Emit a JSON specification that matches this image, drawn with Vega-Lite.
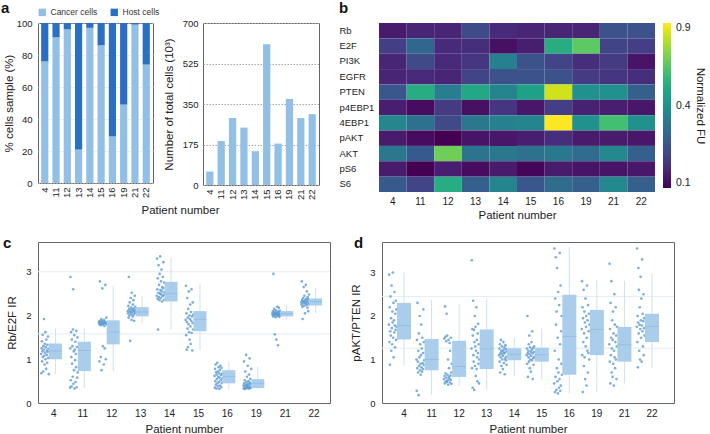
{
"$schema":"https://vega.github.io/schema/vega-lite/v6.json",
"padding":{"left":0,"top":0,"right":0,"bottom":0},
"spacing":14,
"resolve":{"scale":{"color":"independent","xOffset":"independent"}},
"config":{
 "font":"Liberation Sans",
 "view":{"stroke":"#666","strokeWidth":1},
 "axis":{"labelFont":"Liberation Sans","titleFont":"Liberation Sans","labelFontSize":9.5,"titleFontSize":11.5,"titleFontWeight":"normal","labelColor":"#222","titleColor":"#222","ticks":false,"tickSize":0,"domain":false,"grid":false,"labelPadding":6},
 "title":{"font":"Liberation Sans","fontSize":15,"fontWeight":"bold","anchor":"start","frame":"group","offset":0,"color":"#111","baseline":"top"},
 "legend":{"labelFont":"Liberation Sans","titleFont":"Liberation Sans"}
},
"datasets":{
 "comp":[
  {"p":"4","t":"Cancer cells","v":76},{"p":"4","t":"Host cells","v":24},
  {"p":"11","t":"Cancer cells","v":91},{"p":"11","t":"Host cells","v":9},
  {"p":"12","t":"Cancer cells","v":96},{"p":"12","t":"Host cells","v":4},
  {"p":"13","t":"Cancer cells","v":21},{"p":"13","t":"Host cells","v":79},
  {"p":"14","t":"Cancer cells","v":97},{"p":"14","t":"Host cells","v":3},
  {"p":"15","t":"Cancer cells","v":86},{"p":"15","t":"Host cells","v":14},
  {"p":"16","t":"Cancer cells","v":29},{"p":"16","t":"Host cells","v":71},
  {"p":"19","t":"Cancer cells","v":49},{"p":"19","t":"Host cells","v":51},
  {"p":"21","t":"Cancer cells","v":99},{"p":"21","t":"Host cells","v":1},
  {"p":"22","t":"Cancer cells","v":74},{"p":"22","t":"Host cells","v":26}
 ],
 "cells":[
  {"p":"4","n":58},{"p":"11","n":190},{"p":"12","n":289},{"p":"13","n":248},{"p":"14","n":146},
  {"p":"15","n":608},{"p":"16","n":179},{"p":"19","n":372},{"p":"21","n":289},{"p":"22","n":306}
 ],
 "heat":[
  {"m":"Rb","p":"4","v":0.130},{"m":"Rb","p":"11","v":0.144},{"m":"Rb","p":"12","v":0.144},{"m":"Rb","p":"13","v":0.207},{"m":"Rb","p":"14","v":0.154},{"m":"Rb","p":"15","v":0.144},{"m":"Rb","p":"16","v":0.144},{"m":"Rb","p":"19","v":0.144},{"m":"Rb","p":"21","v":0.225},{"m":"Rb","p":"22","v":0.225},
  {"m":"E2F","p":"4","v":0.185},{"m":"E2F","p":"11","v":0.276},{"m":"E2F","p":"12","v":0.154},{"m":"E2F","p":"13","v":0.159},{"m":"E2F","p":"14","v":0.117},{"m":"E2F","p":"15","v":0.135},{"m":"E2F","p":"16","v":0.502},{"m":"E2F","p":"19","v":0.625},{"m":"E2F","p":"21","v":0.196},{"m":"E2F","p":"22","v":0.185},
  {"m":"PI3K","p":"4","v":0.144},{"m":"PI3K","p":"11","v":0.207},{"m":"PI3K","p":"12","v":0.154},{"m":"PI3K","p":"13","v":0.169},{"m":"PI3K","p":"14","v":0.346},{"m":"PI3K","p":"15","v":0.225},{"m":"PI3K","p":"16","v":0.196},{"m":"PI3K","p":"19","v":0.159},{"m":"PI3K","p":"21","v":0.180},{"m":"PI3K","p":"22","v":0.121},
  {"m":"EGFR","p":"4","v":0.144},{"m":"EGFR","p":"11","v":0.154},{"m":"EGFR","p":"12","v":0.144},{"m":"EGFR","p":"13","v":0.196},{"m":"EGFR","p":"14","v":0.225},{"m":"EGFR","p":"15","v":0.225},{"m":"EGFR","p":"16","v":0.225},{"m":"EGFR","p":"19","v":0.180},{"m":"EGFR","p":"21","v":0.169},{"m":"EGFR","p":"22","v":0.159},
  {"m":"PTEN","p":"4","v":0.237},{"m":"PTEN","p":"11","v":0.502},{"m":"PTEN","p":"12","v":0.339},{"m":"PTEN","p":"13","v":0.484},{"m":"PTEN","p":"14","v":0.361},{"m":"PTEN","p":"15","v":0.458},{"m":"PTEN","p":"16","v":0.818},{"m":"PTEN","p":"19","v":0.400},{"m":"PTEN","p":"21","v":0.400},{"m":"PTEN","p":"22","v":0.256},
  {"m":"p4EBP1","p":"4","v":0.135},{"m":"p4EBP1","p":"11","v":0.112},{"m":"p4EBP1","p":"12","v":0.180},{"m":"p4EBP1","p":"13","v":0.117},{"m":"p4EBP1","p":"14","v":0.169},{"m":"p4EBP1","p":"15","v":0.125},{"m":"p4EBP1","p":"16","v":0.185},{"m":"p4EBP1","p":"19","v":0.139},{"m":"p4EBP1","p":"21","v":0.135},{"m":"p4EBP1","p":"22","v":0.125},
  {"m":"4EBP1","p":"4","v":0.369},{"m":"4EBP1","p":"11","v":0.303},{"m":"4EBP1","p":"12","v":0.207},{"m":"4EBP1","p":"13","v":0.324},{"m":"4EBP1","p":"14","v":0.346},{"m":"4EBP1","p":"15","v":0.361},{"m":"4EBP1","p":"16","v":0.900},{"m":"4EBP1","p":"19","v":0.400},{"m":"4EBP1","p":"21","v":0.576},{"m":"4EBP1","p":"22","v":0.400},
  {"m":"pAKT","p":"4","v":0.130},{"m":"pAKT","p":"11","v":0.112},{"m":"pAKT","p":"12","v":0.100},{"m":"pAKT","p":"13","v":0.121},{"m":"pAKT","p":"14","v":0.125},{"m":"pAKT","p":"15","v":0.135},{"m":"pAKT","p":"16","v":0.159},{"m":"pAKT","p":"19","v":0.130},{"m":"pAKT","p":"21","v":0.130},{"m":"pAKT","p":"22","v":0.125},
  {"m":"AKT","p":"4","v":0.324},{"m":"AKT","p":"11","v":0.243},{"m":"AKT","p":"12","v":0.655},{"m":"AKT","p":"13","v":0.310},{"m":"AKT","p":"14","v":0.324},{"m":"AKT","p":"15","v":0.303},{"m":"AKT","p":"16","v":0.324},{"m":"AKT","p":"19","v":0.289},{"m":"AKT","p":"21","v":0.376},{"m":"AKT","p":"22","v":0.256},
  {"m":"pS6","p":"4","v":0.130},{"m":"pS6","p":"11","v":0.100},{"m":"pS6","p":"12","v":0.135},{"m":"pS6","p":"13","v":0.112},{"m":"pS6","p":"14","v":0.130},{"m":"pS6","p":"15","v":0.104},{"m":"pS6","p":"16","v":0.130},{"m":"pS6","p":"19","v":0.121},{"m":"pS6","p":"21","v":0.121},{"m":"pS6","p":"22","v":0.125},
  {"m":"S6","p":"4","v":0.243},{"m":"S6","p":"11","v":0.196},{"m":"S6","p":"12","v":0.502},{"m":"S6","p":"13","v":0.256},{"m":"S6","p":"14","v":0.361},{"m":"S6","p":"15","v":0.237},{"m":"S6","p":"16","v":0.289},{"m":"S6","p":"19","v":0.256},{"m":"S6","p":"21","v":0.376},{"m":"S6","p":"22","v":0.256}
 ],
 "cref":[{"y":1.58},{"y":3.0}],
 "dref":[{"y":1.26},{"y":2.45}],
 "cbox":[
  {"p":"4","lo":0.66,"q1":1.00,"med":1.19,"q3":1.36,"hi":1.72},
  {"p":"11","lo":0.34,"q1":0.73,"med":1.20,"q3":1.40,"hi":1.70},
  {"p":"12","lo":0.73,"q1":1.34,"med":1.62,"q3":1.89,"hi":2.68},
  {"p":"13","lo":1.83,"q1":1.98,"med":2.08,"q3":2.19,"hi":2.45},
  {"p":"14","lo":1.68,"q1":2.32,"med":2.50,"q3":2.77,"hi":3.33},
  {"p":"15","lo":1.20,"q1":1.64,"med":1.91,"q3":2.10,"hi":2.72},
  {"p":"16","lo":0.32,"q1":0.45,"med":0.60,"q3":0.75,"hi":0.95},
  {"p":"19","lo":0.32,"q1":0.34,"med":0.45,"q3":0.545,"hi":0.83},
  {"p":"21","lo":1.89,"q1":1.98,"med":2.04,"q3":2.10,"hi":2.24},
  {"p":"22","lo":2.05,"q1":2.23,"med":2.32,"q3":2.39,"hi":2.63}
 ],
 "dbox":[
  {"p":"4","lo":0.86,"q1":1.46,"med":1.78,"q3":2.30,"hi":3.00},
  {"p":"11","lo":0.19,"q1":0.75,"med":1.00,"q3":1.47,"hi":2.37},
  {"p":"12","lo":0.39,"q1":0.60,"med":0.84,"q3":1.43,"hi":2.27},
  {"p":"13","lo":0.31,"q1":0.78,"med":1.24,"q3":1.69,"hi":2.41},
  {"p":"14","lo":0.61,"q1":0.98,"med":1.12,"q3":1.26,"hi":1.51},
  {"p":"15","lo":0.54,"q1":0.95,"med":1.11,"q3":1.27,"hi":1.71},
  {"p":"16","lo":0.23,"q1":0.65,"med":1.53,"q3":2.49,"hi":3.58},
  {"p":"19","lo":0.25,"q1":1.10,"med":1.69,"q3":2.14,"hi":2.83},
  {"p":"21","lo":0.45,"q1":0.95,"med":1.34,"q3":1.75,"hi":2.81},
  {"p":"22","lo":0.81,"q1":1.40,"med":1.76,"q3":2.05,"hi":2.97}
 ],
 "cpts":[
  {"p":"4","v":1.12},{"p":"4","v":0.68},{"p":"4","v":1.25},{"p":"4","v":1.41},{"p":"4","v":0.95},{"p":"4","v":1.18},{"p":"4","v":1.56},{"p":"4","v":1.05},{"p":"4","v":0.72},{"p":"4","v":1.30},{"p":"4","v":1.22},{"p":"4","v":1.92},{"p":"4","v":1.08},{"p":"4","v":0.88},{"p":"4","v":1.35},{"p":"4","v":1.15},{"p":"4","v":1.62},{"p":"4","v":1.00},{"p":"4","v":1.27},{"p":"4","v":0.78},{"p":"4","v":1.45},{"p":"4","v":1.10},{"p":"4","v":1.20},{"p":"4","v":0.92},{"p":"4","v":1.33},{"p":"4","v":1.17},{"p":"4","v":1.52},{"p":"4","v":1.03},{"p":"4","v":1.24},{"p":"4","v":0.66},
  {"p":"11","v":0.35},{"p":"11","v":1.25},{"p":"11","v":2.88},{"p":"11","v":0.52},{"p":"11","v":1.62},{"p":"11","v":1.05},{"p":"11","v":0.38},{"p":"11","v":1.45},{"p":"11","v":0.90},{"p":"11","v":1.30},{"p":"11","v":0.60},{"p":"11","v":1.68},{"p":"11","v":2.60},{"p":"11","v":0.44},{"p":"11","v":1.18},{"p":"11","v":0.75},{"p":"11","v":1.55},{"p":"11","v":0.33},{"p":"11","v":1.22},{"p":"11","v":0.98},{"p":"11","v":1.40},{"p":"11","v":0.48},{"p":"11","v":1.12},{"p":"11","v":0.82},{"p":"11","v":1.65},{"p":"11","v":0.36},{"p":"11","v":1.28},{"p":"11","v":0.58},{"p":"11","v":1.50},{"p":"11","v":0.70},
  {"p":"12","v":1.83},{"p":"12","v":1.86},{"p":"12","v":0.95},{"p":"12","v":1.80},{"p":"12","v":2.78},{"p":"12","v":1.88},{"p":"12","v":1.78},{"p":"12","v":1.05},{"p":"12","v":1.84},{"p":"12","v":1.92},{"p":"12","v":0.75},{"p":"12","v":1.82},{"p":"12","v":1.87},{"p":"12","v":2.62},{"p":"12","v":1.79},{"p":"12","v":1.30},{"p":"12","v":1.85},{"p":"12","v":1.81},{"p":"12","v":0.88},{"p":"12","v":1.90},{"p":"12","v":1.83},{"p":"12","v":1.76},{"p":"12","v":1.25},{"p":"12","v":1.86},{"p":"12","v":2.70},{"p":"12","v":1.82},{"p":"12","v":1.00},{"p":"12","v":1.84},{"p":"12","v":1.95},{"p":"12","v":1.80},
  {"p":"13","v":2.10},{"p":"13","v":2.05},{"p":"13","v":2.22},{"p":"13","v":1.95},{"p":"13","v":2.88},{"p":"13","v":2.15},{"p":"13","v":2.00},{"p":"13","v":2.30},{"p":"13","v":2.08},{"p":"13","v":1.42},{"p":"13","v":2.12},{"p":"13","v":2.40},{"p":"13","v":2.03},{"p":"13","v":2.18},{"p":"13","v":1.90},{"p":"13","v":2.52},{"p":"13","v":2.07},{"p":"13","v":2.14},{"p":"13","v":1.98},{"p":"13","v":2.25},{"p":"13","v":2.11},{"p":"13","v":2.35},{"p":"13","v":2.02},{"p":"13","v":2.16},{"p":"13","v":1.88},{"p":"13","v":2.09},{"p":"13","v":2.45},{"p":"13","v":2.06},{"p":"13","v":2.20},{"p":"13","v":2.13},
  {"p":"14","v":2.45},{"p":"14","v":3.30},{"p":"14","v":2.60},{"p":"14","v":2.38},{"p":"14","v":2.85},{"p":"14","v":1.68},{"p":"14","v":2.52},{"p":"14","v":3.15},{"p":"14","v":2.42},{"p":"14","v":2.70},{"p":"14","v":2.35},{"p":"14","v":2.95},{"p":"14","v":2.50},{"p":"14","v":3.35},{"p":"14","v":2.58},{"p":"14","v":2.40},{"p":"14","v":2.78},{"p":"14","v":2.48},{"p":"14","v":3.05},{"p":"14","v":2.55},{"p":"14","v":2.32},{"p":"14","v":2.65},{"p":"14","v":2.44},{"p":"14","v":2.88},{"p":"14","v":2.62},{"p":"14","v":3.22},{"p":"14","v":2.47},{"p":"14","v":2.36},{"p":"14","v":2.75},{"p":"14","v":2.53},
  {"p":"15","v":1.90},{"p":"15","v":2.68},{"p":"15","v":1.55},{"p":"15","v":2.05},{"p":"15","v":1.22},{"p":"15","v":1.85},{"p":"15","v":2.40},{"p":"15","v":1.70},{"p":"15","v":1.95},{"p":"15","v":1.28},{"p":"15","v":2.15},{"p":"15","v":1.80},{"p":"15","v":2.55},{"p":"15","v":1.62},{"p":"15","v":2.00},{"p":"15","v":1.45},{"p":"15","v":1.92},{"p":"15","v":2.25},{"p":"15","v":1.75},{"p":"15","v":1.35},{"p":"15","v":2.08},{"p":"15","v":1.88},{"p":"15","v":2.60},{"p":"15","v":1.60},{"p":"15","v":1.98},{"p":"15","v":1.20},{"p":"15","v":1.83},{"p":"15","v":2.30},{"p":"15","v":1.68},{"p":"15","v":2.02},
  {"p":"16","v":0.62},{"p":"16","v":0.35},{"p":"16","v":0.78},{"p":"16","v":0.50},{"p":"16","v":0.88},{"p":"16","v":0.42},{"p":"16","v":0.70},{"p":"16","v":0.33},{"p":"16","v":0.65},{"p":"16","v":0.55},{"p":"16","v":0.92},{"p":"16","v":0.45},{"p":"16","v":0.72},{"p":"16","v":0.38},{"p":"16","v":0.60},{"p":"16","v":0.82},{"p":"16","v":0.48},{"p":"16","v":0.68},{"p":"16","v":0.32},{"p":"16","v":0.58},{"p":"16","v":0.75},{"p":"16","v":0.40},{"p":"16","v":0.85},{"p":"16","v":0.52},{"p":"16","v":0.64},{"p":"16","v":0.36},{"p":"16","v":0.80},{"p":"16","v":0.46},{"p":"16","v":0.67},{"p":"16","v":0.56},
  {"p":"19","v":0.40},{"p":"19","v":0.33},{"p":"19","v":0.95},{"p":"19","v":0.45},{"p":"19","v":0.36},{"p":"19","v":0.52},{"p":"19","v":0.32},{"p":"19","v":0.72},{"p":"19","v":0.42},{"p":"19","v":0.38},{"p":"19","v":1.10},{"p":"19","v":0.48},{"p":"19","v":0.34},{"p":"19","v":0.60},{"p":"19","v":0.41},{"p":"19","v":0.35},{"p":"19","v":0.85},{"p":"19","v":0.44},{"p":"19","v":0.37},{"p":"19","v":0.50},{"p":"19","v":0.33},{"p":"19","v":0.65},{"p":"19","v":0.39},{"p":"19","v":1.02},{"p":"19","v":0.46},{"p":"19","v":0.34},{"p":"19","v":0.55},{"p":"19","v":0.43},{"p":"19","v":0.36},{"p":"19","v":0.78},
  {"p":"21","v":2.05},{"p":"21","v":2.02},{"p":"21","v":2.10},{"p":"21","v":1.98},{"p":"21","v":2.95},{"p":"21","v":2.06},{"p":"21","v":2.00},{"p":"21","v":2.15},{"p":"21","v":2.04},{"p":"21","v":1.57},{"p":"21","v":2.08},{"p":"21","v":2.03},{"p":"21","v":1.96},{"p":"21","v":2.12},{"p":"21","v":2.01},{"p":"21","v":1.45},{"p":"21","v":2.07},{"p":"21","v":2.05},{"p":"21","v":2.20},{"p":"21","v":1.99},{"p":"21","v":2.03},{"p":"21","v":1.32},{"p":"21","v":2.09},{"p":"21","v":2.04},{"p":"21","v":2.18},{"p":"21","v":2.02},{"p":"21","v":1.97},{"p":"21","v":2.06},{"p":"21","v":2.11},{"p":"21","v":2.00},
  {"p":"22","v":2.30},{"p":"22","v":2.25},{"p":"22","v":2.78},{"p":"22","v":2.35},{"p":"22","v":2.20},{"p":"22","v":1.92},{"p":"22","v":2.32},{"p":"22","v":2.40},{"p":"22","v":2.28},{"p":"22","v":2.65},{"p":"22","v":2.33},{"p":"22","v":2.22},{"p":"22","v":2.45},{"p":"22","v":2.31},{"p":"22","v":2.05},{"p":"22","v":2.36},{"p":"22","v":2.27},{"p":"22","v":2.70},{"p":"22","v":2.29},{"p":"22","v":2.38},{"p":"22","v":2.24},{"p":"22","v":2.55},{"p":"22","v":2.34},{"p":"22","v":2.18},{"p":"22","v":2.42},{"p":"22","v":2.30},{"p":"22","v":2.10},{"p":"22","v":2.37},{"p":"22","v":2.26},{"p":"22","v":2.48}
 ],
 "dpts":[
  {"p":"4","v":1.80},{"p":"4","v":2.95},{"p":"4","v":1.40},{"p":"4","v":2.20},{"p":"4","v":0.88},{"p":"4","v":1.65},{"p":"4","v":2.45},{"p":"4","v":1.55},{"p":"4","v":1.95},{"p":"4","v":1.20},{"p":"4","v":2.70},{"p":"4","v":1.72},{"p":"4","v":1.35},{"p":"4","v":2.10},{"p":"4","v":1.85},{"p":"4","v":3.00},{"p":"4","v":1.50},{"p":"4","v":2.30},{"p":"4","v":1.05},{"p":"4","v":1.90},{"p":"4","v":1.62},{"p":"4","v":2.55},{"p":"4","v":1.78},{"p":"4","v":1.28},{"p":"4","v":2.05},{"p":"4","v":1.68},{"p":"4","v":2.35},{"p":"4","v":1.45},{"p":"4","v":2.15},{"p":"4","v":1.75},
  {"p":"11","v":1.00},{"p":"11","v":0.28},{"p":"11","v":1.45},{"p":"11","v":0.80},{"p":"11","v":2.30},{"p":"11","v":0.95},{"p":"11","v":0.70},{"p":"11","v":1.20},{"p":"11","v":0.18},{"p":"11","v":1.60},{"p":"11","v":0.85},{"p":"11","v":1.05},{"p":"11","v":2.00},{"p":"11","v":0.75},{"p":"11","v":1.35},{"p":"11","v":0.90},{"p":"11","v":0.65},{"p":"11","v":1.10},{"p":"11","v":1.80},{"p":"11","v":0.82},{"p":"11","v":1.25},{"p":"11","v":0.72},{"p":"11","v":1.50},{"p":"11","v":0.92},{"p":"11","v":0.78},{"p":"11","v":1.15},{"p":"11","v":2.15},{"p":"11","v":0.88},{"p":"11","v":1.40},{"p":"11","v":0.98},
  {"p":"12","v":0.55},{"p":"12","v":1.48},{"p":"12","v":0.62},{"p":"12","v":0.45},{"p":"12","v":2.22},{"p":"12","v":1.52},{"p":"12","v":0.68},{"p":"12","v":0.50},{"p":"12","v":1.42},{"p":"12","v":0.58},{"p":"12","v":2.05},{"p":"12","v":0.48},{"p":"12","v":1.55},{"p":"12","v":0.65},{"p":"12","v":0.52},{"p":"12","v":1.00},{"p":"12","v":0.42},{"p":"12","v":1.45},{"p":"12","v":0.60},{"p":"12","v":0.80},{"p":"12","v":0.56},{"p":"12","v":1.38},{"p":"12","v":0.47},{"p":"12","v":1.20},{"p":"12","v":0.63},{"p":"12","v":0.53},{"p":"12","v":1.50},{"p":"12","v":0.70},{"p":"12","v":0.44},{"p":"12","v":0.90},
  {"p":"13","v":1.25},{"p":"13","v":3.28},{"p":"13","v":0.80},{"p":"13","v":1.70},{"p":"13","v":0.35},{"p":"13","v":1.55},{"p":"13","v":2.35},{"p":"13","v":1.10},{"p":"13","v":0.95},{"p":"13","v":1.68},{"p":"13","v":0.30},{"p":"13","v":1.40},{"p":"13","v":2.00},{"p":"13","v":0.85},{"p":"13","v":1.30},{"p":"13","v":1.75},{"p":"13","v":0.62},{"p":"13","v":1.20},{"p":"13","v":2.20},{"p":"13","v":0.78},{"p":"13","v":1.45},{"p":"13","v":1.05},{"p":"13","v":0.50},{"p":"13","v":1.60},{"p":"13","v":1.15},{"p":"13","v":1.82},{"p":"13","v":0.90},{"p":"13","v":1.35},{"p":"13","v":0.45},{"p":"13","v":1.00},
  {"p":"14","v":1.10},{"p":"14","v":1.25},{"p":"14","v":0.95},{"p":"14","v":1.35},{"p":"14","v":0.70},{"p":"14","v":1.15},{"p":"14","v":1.05},{"p":"14","v":1.45},{"p":"14","v":1.20},{"p":"14","v":0.85},{"p":"14","v":1.12},{"p":"14","v":1.30},{"p":"14","v":1.00},{"p":"14","v":1.18},{"p":"14","v":0.78},{"p":"14","v":1.08},{"p":"14","v":1.40},{"p":"14","v":1.22},{"p":"14","v":0.92},{"p":"14","v":1.14},{"p":"14","v":1.28},{"p":"14","v":0.66},{"p":"14","v":1.02},{"p":"14","v":1.16},{"p":"14","v":1.33},{"p":"14","v":0.98},{"p":"14","v":1.24},{"p":"14","v":1.06},{"p":"14","v":0.88},{"p":"14","v":1.19},
  {"p":"15","v":1.10},{"p":"15","v":1.25},{"p":"15","v":0.90},{"p":"15","v":2.00},{"p":"15","v":1.15},{"p":"15","v":0.60},{"p":"15","v":1.20},{"p":"15","v":1.05},{"p":"15","v":1.35},{"p":"15","v":0.95},{"p":"15","v":1.55},{"p":"15","v":1.12},{"p":"15","v":0.80},{"p":"15","v":1.28},{"p":"15","v":1.00},{"p":"15","v":1.18},{"p":"15","v":0.72},{"p":"15","v":1.08},{"p":"15","v":1.40},{"p":"15","v":1.22},{"p":"15","v":0.98},{"p":"15","v":1.65},{"p":"15","v":1.14},{"p":"15","v":0.55},{"p":"15","v":1.26},{"p":"15","v":1.03},{"p":"15","v":0.88},{"p":"15","v":1.17},{"p":"15","v":1.30},{"p":"15","v":1.06},
  {"p":"16","v":0.45},{"p":"16","v":3.55},{"p":"16","v":1.20},{"p":"16","v":0.25},{"p":"16","v":2.40},{"p":"16","v":0.60},{"p":"16","v":3.35},{"p":"16","v":1.80},{"p":"16","v":0.30},{"p":"16","v":2.10},{"p":"16","v":0.80},{"p":"16","v":3.10},{"p":"16","v":0.50},{"p":"16","v":1.50},{"p":"16","v":0.22},{"p":"16","v":2.55},{"p":"16","v":0.70},{"p":"16","v":1.00},{"p":"16","v":0.35},{"p":"16","v":2.25},{"p":"16","v":0.55},{"p":"16","v":3.45},{"p":"16","v":1.35},{"p":"16","v":0.28},{"p":"16","v":2.70},{"p":"16","v":0.40},{"p":"16","v":1.65},{"p":"16","v":0.90},{"p":"16","v":2.00},{"p":"16","v":0.65},
  {"p":"19","v":1.70},{"p":"19","v":2.80},{"p":"19","v":1.10},{"p":"19","v":2.20},{"p":"19","v":0.25},{"p":"19","v":1.95},{"p":"19","v":1.40},{"p":"19","v":2.60},{"p":"19","v":0.85},{"p":"19","v":1.60},{"p":"19","v":2.10},{"p":"19","v":1.05},{"p":"19","v":1.85},{"p":"19","v":0.55},{"p":"19","v":2.40},{"p":"19","v":1.30},{"p":"19","v":1.75},{"p":"19","v":2.00},{"p":"19","v":0.40},{"p":"19","v":1.50},{"p":"19","v":2.70},{"p":"19","v":1.20},{"p":"19","v":1.90},{"p":"19","v":0.70},{"p":"19","v":2.25},{"p":"19","v":1.15},{"p":"19","v":1.65},{"p":"19","v":2.05},{"p":"19","v":1.00},{"p":"19","v":1.80},
  {"p":"21","v":1.35},{"p":"21","v":3.20},{"p":"21","v":0.95},{"p":"21","v":1.70},{"p":"21","v":0.45},{"p":"21","v":2.30},{"p":"21","v":1.10},{"p":"21","v":1.50},{"p":"21","v":2.80},{"p":"21","v":0.70},{"p":"21","v":1.25},{"p":"21","v":1.90},{"p":"21","v":0.60},{"p":"21","v":1.45},{"p":"21","v":2.10},{"p":"21","v":0.90},{"p":"21","v":1.60},{"p":"21","v":0.40},{"p":"21","v":1.20},{"p":"21","v":2.50},{"p":"21","v":1.05},{"p":"21","v":1.80},{"p":"21","v":0.80},{"p":"21","v":1.40},{"p":"21","v":2.20},{"p":"21","v":1.00},{"p":"21","v":1.55},{"p":"21","v":0.55},{"p":"21","v":1.30},{"p":"21","v":1.75},
  {"p":"22","v":1.75},{"p":"22","v":3.55},{"p":"22","v":1.40},{"p":"22","v":2.00},{"p":"22","v":0.82},{"p":"22","v":1.85},{"p":"22","v":3.10},{"p":"22","v":1.60},{"p":"22","v":2.60},{"p":"22","v":1.20},{"p":"22","v":1.80},{"p":"22","v":2.20},{"p":"22","v":1.00},{"p":"22","v":1.70},{"p":"22","v":2.90},{"p":"22","v":1.90},{"p":"22","v":1.50},{"p":"22","v":2.40},{"p":"22","v":0.95},{"p":"22","v":1.78},{"p":"22","v":3.30},{"p":"22","v":1.65},{"p":"22","v":2.05},{"p":"22","v":1.30},{"p":"22","v":1.88},{"p":"22","v":2.50},{"p":"22","v":1.10},{"p":"22","v":1.72},{"p":"22","v":1.95},{"p":"22","v":1.55}
 ]
},
"vconcat":[
 {
  "bounds":"flush",
  "spacing":50,
  "resolve":{"scale":{"color":"independent","x":"independent","y":"independent"}},
  "hconcat":[
   {
    "width":115,"height":160,
    "title":{"text":"a","dx":-37,"dy":11.5},
    "data":{"name":"comp"},
    "mark":{"type":"bar","width":{"band":0.71}},
    "encoding":{
     "x":{"field":"p","type":"nominal","scale":{"domain":["4","11","12","13","14","15","16","19","21","22"],"paddingOuter":0.15},"axis":{"labelAngle":-90,"labelPadding":4,"labelBaseline":"middle","title":"Patient number","titleX":142,"titleY":21,"titleBaseline":"top","titleFontSize":11.5}},
     "y":{"field":"v","type":"quantitative","stack":"zero","scale":{"domain":[0,100]},"axis":{"values":[0,20,40,60,80,100],"grid":true,"gridColor":"#d5d5d5","gridDash":[1,2],"title":"% cells sample (%)","titlePadding":2}},
     "color":{"field":"t","type":"nominal","scale":{"domain":["Cancer cells","Host cells"],"range":["#92bfe6","#2b6fc2"]},"legend":{"orient":"top","direction":"horizontal","title":null,"symbolType":"square","symbolSize":55,"symbolStrokeWidth":0,"labelFontSize":8.5,"labelColor":"#333","offset":6,"padding":0,"columnPadding":12,"labelOffset":4}},
     "order":{"field":"t","sort":"ascending"}
    }
   },
   {
    "width":116,"height":162,
    "data":{"name":"cells"},
    "mark":{"type":"bar","color":"#92bfe6","width":{"band":0.71}},
    "encoding":{
     "x":{"field":"p","type":"nominal","scale":{"domain":["4","11","12","13","14","15","16","19","21","22"],"paddingOuter":0.15},"axis":{"labelAngle":-90,"labelPadding":4,"labelBaseline":"middle","title":null}},
     "y":{"field":"n","type":"quantitative","scale":{"domain":[0,700]},"axis":{"values":[0,175,350,525,700],"grid":true,"gridColor":"#a8a8a8","gridDash":[1.5,1.5],"labelPadding":5,"title":"Number of total cells (10³)","titlePadding":8}}
    }
   },
   {
    "width":286,"height":169,
    "view":{"stroke":null},
    "title":{"text":"b","dx":-30,"dy":-3.5},
    "data":{"name":"heat"},
    "mark":{"type":"rect"},
    "encoding":{
     "x":{"field":"p","type":"nominal","scale":{"domain":["4","11","12","13","14","15","16","19","21","22"],"paddingInner":0,"paddingOuter":0.181,"align":1},"axis":{"labelAngle":0,"labelPadding":4,"labelFontSize":10,"title":"Patient number","titlePadding":3,"titleX":148}},
     "y":{"field":"m","type":"nominal","scale":{"domain":["Rb","E2F","PI3K","EGFR","PTEN","p4EBP1","4EBP1","pAKT","AKT","pS6","S6"]},"axis":{"labelAlign":"left","labelPadding":30,"labelFontSize":9.5,"title":null}},
     "color":{"field":"v","type":"quantitative","scale":{"type":"sqrt","domain":[0.1,0.9],"scheme":"viridis"},"legend":{"title":"Normalized FU","titleOrient":"right","titleAngle":90,"titleAnchor":"middle","titleBaseline":"bottom","titleFontSize":11.5,"titleFontWeight":"normal","titleColor":"#222","titlePadding":4,"values":[0.1,0.4,0.9],"gradientLength":165,"gradientThickness":8,"gradientStrokeWidth":0,"labelFontSize":10.5,"labelColor":"#222","labelBaseline":"middle","labelOffset":5,"offset":8}}
    }
   }
  ]
 },
 {
  "bounds":"flush",
  "spacing":52,
  "resolve":{"scale":{"xOffset":"independent","x":"independent","y":"independent"}},
  "hconcat":[
   {
    "width":292,"height":161,
    "title":{"text":"c","dx":-35,"dy":13},
    "layer":[
     {"data":{"name":"cref"},"mark":{"type":"rule","color":"#e3ecf4","strokeWidth":1},
      "encoding":{"y":{"field":"y","type":"quantitative","scale":{"domain":[0,3.68]},"axis":{"values":[0,1,2,3],"labelPadding":7,"title":"Rb/E2F IR","titlePadding":8}}}},
     {"data":{"name":"cbox"},"mark":{"type":"rule","color":"#cfe1ef","strokeWidth":1,"xOffset":1.5},
      "encoding":{"x":{"field":"p","type":"nominal","scale":{"domain":["4","11","12","13","14","15","16","19","21","22"],"paddingInner":0,"paddingOuter":0.05},"axis":{"labelAngle":0,"labelPadding":5,"labelFontSize":10,"title":"Patient number","titlePadding":5}},
       "y":{"field":"lo","type":"quantitative","scale":{"domain":[0,3.68]},"axis":{"values":[0,1,2,3],"labelPadding":7,"title":"Rb/E2F IR","titlePadding":8}},"y2":{"field":"hi"}}},
     {"data":{"name":"cpts"},"transform":[{"window":[{"op":"row_number","as":"i"}],"groupby":["p"]}],
      "mark":{"type":"circle","size":7,"color":"#5b9bd5","opacity":0.8},
      "encoding":{"x":{"field":"p","type":"nominal","scale":{"domain":["4","11","12","13","14","15","16","19","21","22"],"paddingInner":0,"paddingOuter":0.05},"axis":{"labelAngle":0,"labelPadding":5,"labelFontSize":10,"title":"Patient number","titlePadding":5}},
       "xOffset":{"field":"i","type":"nominal","scale":{"range":[1.5,9.5]}},
       "y":{"field":"v","type":"quantitative","scale":{"domain":[0,3.68]},"axis":{"values":[0,1,2,3],"labelPadding":7,"title":"Rb/E2F IR","titlePadding":8}}}},
     {"data":{"name":"cbox"},"mark":{"type":"bar","width":13,"color":"#a9cdeb","xOffset":1.5},
      "encoding":{"x":{"field":"p","type":"nominal","scale":{"domain":["4","11","12","13","14","15","16","19","21","22"],"paddingInner":0,"paddingOuter":0.05},"axis":{"labelAngle":0,"labelPadding":5,"labelFontSize":10,"title":"Patient number","titlePadding":5}},
       "y":{"field":"q1","type":"quantitative","scale":{"domain":[0,3.68]},"axis":{"values":[0,1,2,3],"labelPadding":7,"title":"Rb/E2F IR","titlePadding":8}},"y2":{"field":"q3"}}},
     {"data":{"name":"cbox"},"mark":{"type":"tick","size":13,"thickness":1,"color":"#8dbbe2","xOffset":1.5},
      "encoding":{"x":{"field":"p","type":"nominal","scale":{"domain":["4","11","12","13","14","15","16","19","21","22"],"paddingInner":0,"paddingOuter":0.05},"axis":{"labelAngle":0,"labelPadding":5,"labelFontSize":10,"title":"Patient number","titlePadding":5}},
       "y":{"field":"med","type":"quantitative","scale":{"domain":[0,3.68]},"axis":{"values":[0,1,2,3],"labelPadding":7,"title":"Rb/E2F IR","titlePadding":8}}}}
    ]
   },
   {
    "width":292,"height":161,
    "title":{"text":"d","dx":-28,"dy":13},
    "layer":[
     {"data":{"name":"dref"},"mark":{"type":"rule","color":"#e3ecf4","strokeWidth":1},
      "encoding":{"y":{"field":"y","type":"quantitative","scale":{"domain":[0,3.7]},"axis":{"values":[0,1,2,3],"labelPadding":7,"title":"pAKT/PTEN IR","titlePadding":8}}}},
     {"data":{"name":"dbox"},"mark":{"type":"rule","color":"#cfe1ef","strokeWidth":1},
      "encoding":{"x":{"field":"p","type":"nominal","scale":{"domain":["4","11","12","13","14","15","16","19","21","22"],"paddingInner":0,"paddingOuter":0.3},"axis":{"labelAngle":0,"labelPadding":5,"labelFontSize":10,"title":"Patient number","titlePadding":5}},
       "y":{"field":"lo","type":"quantitative","scale":{"domain":[0,3.7]},"axis":{"values":[0,1,2,3],"labelPadding":7,"title":"pAKT/PTEN IR","titlePadding":8}},"y2":{"field":"hi"}}},
     {"data":{"name":"dpts"},"transform":[{"window":[{"op":"row_number","as":"i"}],"groupby":["p"]}],
      "mark":{"type":"circle","size":7,"color":"#5b9bd5","opacity":0.8},
      "encoding":{"x":{"field":"p","type":"nominal","scale":{"domain":["4","11","12","13","14","15","16","19","21","22"],"paddingInner":0,"paddingOuter":0.3},"axis":{"labelAngle":0,"labelPadding":5,"labelFontSize":10,"title":"Patient number","titlePadding":5}},
       "xOffset":{"field":"i","type":"nominal","scale":{"range":[-1.5,6.5]}},
       "y":{"field":"v","type":"quantitative","scale":{"domain":[0,3.7]},"axis":{"values":[0,1,2,3],"labelPadding":7,"title":"pAKT/PTEN IR","titlePadding":8}}}},
     {"data":{"name":"dbox"},"mark":{"type":"bar","width":14,"color":"#a9cdeb"},
      "encoding":{"x":{"field":"p","type":"nominal","scale":{"domain":["4","11","12","13","14","15","16","19","21","22"],"paddingInner":0,"paddingOuter":0.3},"axis":{"labelAngle":0,"labelPadding":5,"labelFontSize":10,"title":"Patient number","titlePadding":5}},
       "y":{"field":"q1","type":"quantitative","scale":{"domain":[0,3.7]},"axis":{"values":[0,1,2,3],"labelPadding":7,"title":"pAKT/PTEN IR","titlePadding":8}},"y2":{"field":"q3"}}},
     {"data":{"name":"dbox"},"mark":{"type":"tick","size":14,"thickness":1,"color":"#8dbbe2"},
      "encoding":{"x":{"field":"p","type":"nominal","scale":{"domain":["4","11","12","13","14","15","16","19","21","22"],"paddingInner":0,"paddingOuter":0.3},"axis":{"labelAngle":0,"labelPadding":5,"labelFontSize":10,"title":"Patient number","titlePadding":5}},
       "y":{"field":"med","type":"quantitative","scale":{"domain":[0,3.7]},"axis":{"values":[0,1,2,3],"labelPadding":7,"title":"pAKT/PTEN IR","titlePadding":8}}}}
    ]
   }
  ]
 }
]
}
